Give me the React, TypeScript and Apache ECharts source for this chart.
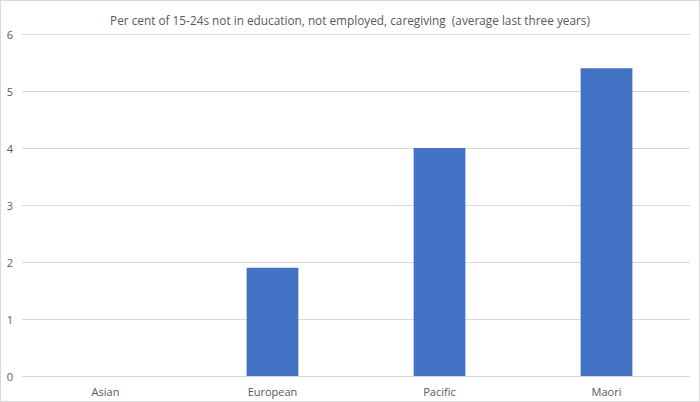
import React, { useEffect, useRef } from 'react';
import * as echarts from 'echarts';

const COLORS = {
  TEXT: '#595959',
  GRID: '#d9d9d9',
  BAR: '#4472c4',
  BORDER: '#d9d9d9',
};

const categories = ['Asian', 'European', 'Pacific', 'Maori'];
const values = [0, 1.9, 4.0, 5.4];

const FONT = '"Open Sans", "Liberation Sans", sans-serif';

const App: React.FC = () => {
  const divEL = useRef<HTMLDivElement>(null);

  useEffect(() => {
    document.body.style.margin = '0';
    const instance = echarts.init(divEL.current as any, null, { renderer: 'svg' });
    const option: echarts.EChartsOption = {
      animation: false,
      textStyle: { fontFamily: FONT },
      title: {
        text: 'Per cent of 15-24s not in education, not employed, caregiving  (average last three years)',
        left: 'center',
        top: 8,
        textStyle: {
          fontSize: 11.8,
          fontWeight: 'normal',
          color: COLORS.TEXT,
          fontFamily: FONT,
        },
      },
      grid: {
        left: 21,
        right: 9,
        top: 33,
        bottom: 25,
      },
      xAxis: {
        type: 'category',
        data: categories,
        axisLine: { show: true, lineStyle: { color: COLORS.GRID } },
        axisTick: { show: false },
        axisLabel: { color: COLORS.TEXT, fontSize: 11, margin: 10, fontFamily: FONT },
      },
      yAxis: {
        type: 'value',
        min: 0,
        max: 6,
        interval: 1,
        axisLine: { show: false },
        axisTick: { show: false },
        axisLabel: { color: COLORS.TEXT, fontSize: 11, margin: 9, fontFamily: FONT },
        splitLine: { lineStyle: { color: COLORS.GRID } },
      },
      series: [
        {
          type: 'bar',
          data: values,
          barWidth: '31%',
          itemStyle: { color: COLORS.BAR },
        },
      ],
    };
    instance.setOption(option);
    return () => {
      instance.dispose();
    };
  }, []);

  return (
    <div
      ref={divEL}
      style={{
        width: 700,
        height: 402,
        boxSizing: 'border-box',
        border: `1px solid ${COLORS.BORDER}`,
        background: '#fff',
      }}
    ></div>
  );
};

export default App;
